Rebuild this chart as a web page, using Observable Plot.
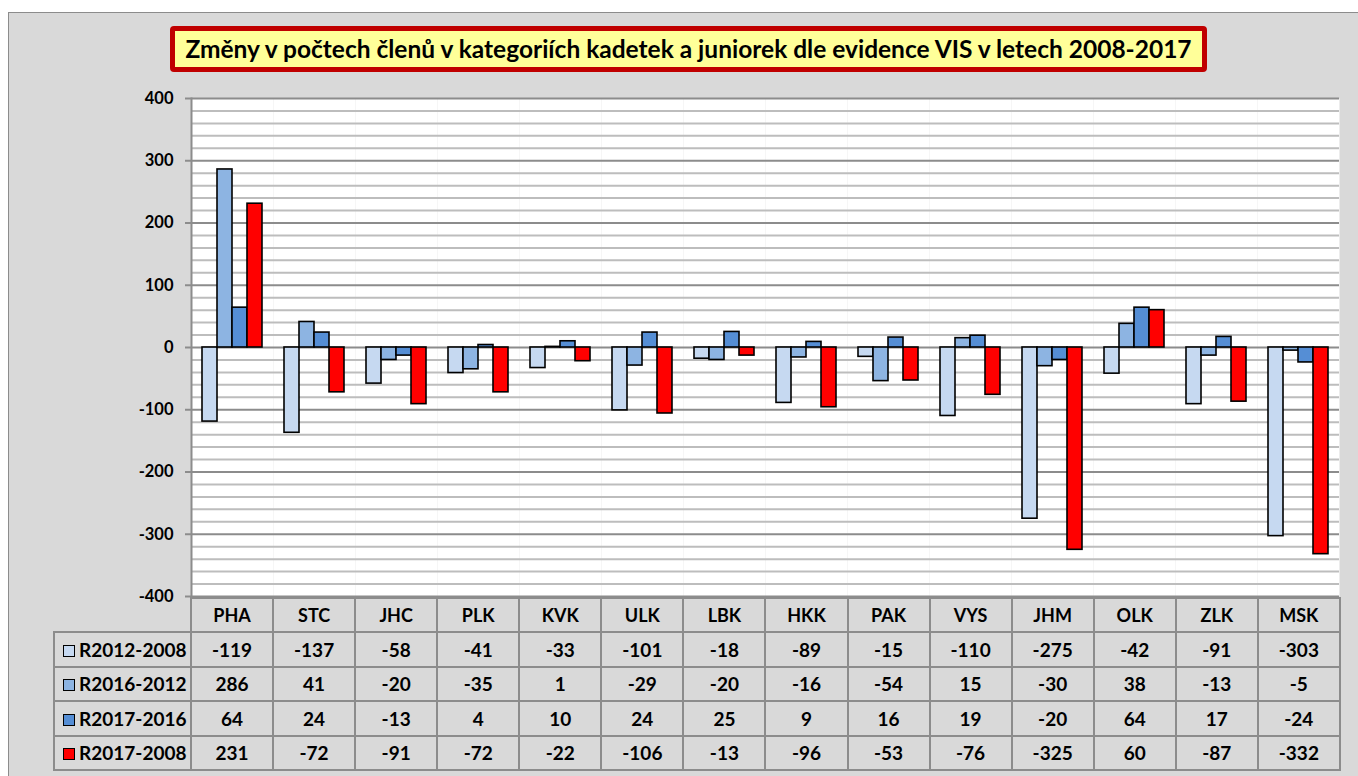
<!DOCTYPE html>
<html>
<head>
<meta charset="utf-8">
<script src="https://cdn.jsdelivr.net/npm/d3@7"></script>
<script src="https://cdn.jsdelivr.net/npm/@observablehq/plot@0.6"></script>
<style>
  html, body { margin: 0; padding: 0; background: #ffffff; }
  body { position: relative; width: 1358px; height: 776px; overflow: hidden; font-family: Lato, "Open Sans", sans-serif; }
  #frame { position: absolute; left: 8px; top: 12px; width: 1400px; height: 800px; background: #d9d9d9; border: 1px solid #8c8c8c; box-sizing: border-box; }
  #title { position: absolute; left: 170px; top: 26px; width: 1037px; height: 46px; box-sizing: border-box; border: 5px solid #c00000; border-radius: 4px; background: #ffff99; font-weight: bold; font-size: 24.5px; line-height: 35px; text-align: center; color: #000; white-space: nowrap; }
  #chart { position: absolute; left: 130px; top: 80px; }
  #table { position: absolute; left: 53px; top: 597px; border-collapse: collapse; table-layout: fixed; font-weight: bold; font-size: 19px; color: #000; }
  #table td { border: 2px solid #8c8c8c; text-align: center; height: 32.5px; padding: 0; }
  #table tr.head td { height: 32px; font-size: 18px; }
  #table td.lab { text-align: left; padding-left: 8px; white-space: nowrap; }
  #table td.blank { border-top: none; border-left: none; }
  .sw { display: inline-block; width: 10px; height: 10px; border: 1.5px solid #000; margin-right: 4px; vertical-align: 0px; }
</style>
</head>
<body>
<div id="frame"></div>
<div id="title">Změny v počtech členů v kategoriích kadetek a juniorek dle evidence VIS v letech 2008-2017</div>
<div id="chart"></div>
<table id="table"></table>
<script>
const categories = ["PHA","STC","JHC","PLK","KVK","ULK","LBK","HKK","PAK","VYS","JHM","OLK","ZLK","MSK"];
const seriesNames = ["R2012-2008","R2016-2012","R2017-2016","R2017-2008"];
const seriesColors = ["#c6d9f1","#8db4e2","#558ed5","#ff0000"];
const r2012_2008 = [-119,-137,-58,-41,-33,-101,-18,-89,-15,-110,-275,-42,-91,-303];
const r2016_2012 = [286,41,-20,-35,1,-29,-20,-16,-54,15,-30,38,-13,-5];
const r2017_2016 = [64,24,-13,4,10,24,25,9,16,19,-20,64,17,-24];
const r2017_2008 = [231,-72,-91,-72,-22,-106,-13,-96,-53,-76,-325,60,-87,-332];
const majorTicks = [-400,-300,-200,-100,0,100,200,300,400];
const minorTicks = d3.range(-400, 401, 20).filter(v => v % 100 !== 0);

const seriesValues = [r2012_2008, r2016_2012, r2017_2016, r2017_2008];
const rows = [];
categories.forEach((c, i) => seriesNames.forEach((s, j) => rows.push({cat: c, series: s, value: seriesValues[j][i]})));

const chart = Plot.plot({
  width: 1209,
  height: 518,
  marginLeft: 60,
  marginRight: 0,
  marginTop: 18,
  marginBottom: 2,
  style: {fontFamily: "Lato, 'Open Sans', sans-serif", fontSize: "16.5px", fontWeight: "bold", color: "#000", background: "transparent", overflow: "visible"},
  fx: {domain: categories, axis: null, padding: 0},
  x: {domain: seriesNames, axis: null, paddingInner: 0, paddingOuter: 0.73},
  y: {domain: [-400, 400], axis: null},
  color: {domain: seriesNames, range: seriesColors},
  marks: [
    Plot.frame({fill: "#ffffff", stroke: null}),
    Plot.ruleY(minorTicks, {stroke: "#bdbdbd", strokeWidth: 2}),
    Plot.ruleY(majorTicks, {stroke: "#8c8c8c", strokeWidth: 2}),
    Plot.barY(rows, {fx: "cat", x: "series", y: "value", fill: "series", stroke: "#000", strokeWidth: 1.6}),
    Plot.axisY({ticks: majorTicks, label: null, tickSize: 6, tickPadding: 12, stroke: "#8c8c8c", strokeWidth: 2, strokeOpacity: 1, tickFormat: d => String(d), fill: "#000", facetAnchor: "left"}),
    Plot.frame({anchor: "left", stroke: "#8c8c8c", strokeWidth: 2, facetAnchor: "left"})
  ]
});
document.getElementById("chart").appendChild(chart);

// data table
const table = document.getElementById("table");
const colg = document.createElement("colgroup");
const c0 = document.createElement("col"); c0.style.width = "137px"; colg.appendChild(c0);
categories.forEach(() => { const c = document.createElement("col"); c.style.width = (1149/14) + "px"; colg.appendChild(c); });
table.appendChild(colg);
const head = document.createElement("tr"); head.className = "head";
const blank = document.createElement("td"); blank.className = "blank"; head.appendChild(blank);
categories.forEach(c => { const td = document.createElement("td"); td.textContent = c; head.appendChild(td); });
table.appendChild(head);
seriesNames.forEach((s, j) => {
  const tr = document.createElement("tr");
  const lab = document.createElement("td"); lab.className = "lab";
  const sw = document.createElement("span"); sw.className = "sw"; sw.style.background = seriesColors[j];
  lab.appendChild(sw); lab.appendChild(document.createTextNode(s));
  tr.appendChild(lab);
  seriesValues[j].forEach(v => { const td = document.createElement("td"); td.textContent = String(v); tr.appendChild(td); });
  table.appendChild(tr);
});
</script>
</body>
</html>
